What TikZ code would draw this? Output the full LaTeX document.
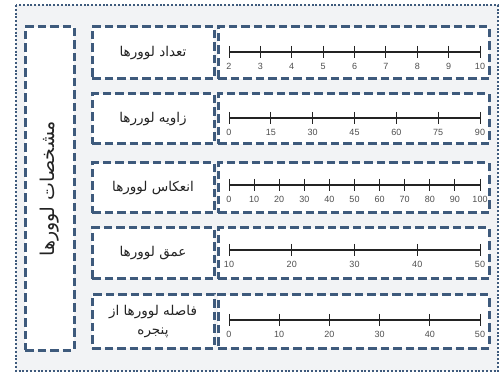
\documentclass[tikz,border=0pt]{standalone}
\usepackage{fontspec}
\setmainfont{Liberation Sans}
\newfontfamily\arabicfont[Script=Arabic]{DejaVu Sans}
\TeXXeTstate=1
\definecolor{bc}{RGB}{62,90,124}
\definecolor{bgc}{RGB}{242,243,245}
\definecolor{txt}{RGB}{35,35,35}
\tikzset{
  frame/.style={draw=bc, line width=2.6pt, dash pattern=on 2pt off 1.8pt},
  dbox/.style={draw=bc, line width=3pt, dash pattern=on 8.5pt off 4pt, fill=white},
  lab/.style={text=txt, font=\arabicfont\fontsize{13.5}{19}\selectfont, align=center},
  num/.style={text=txt!80, font=\fontsize{9}{10}\selectfont, inner sep=0pt},
  scaleline/.style={draw=txt, line width=1.2pt},
  tick/.style={draw=txt, line width=1pt}
}
\newcommand\myscale[3]{%
  \draw[scaleline] (229,#1) -- (480,#1);
  \foreach \l [count=\i from 0] in {#3} {
    \pgfmathsetmacro\xx{229+251*\i/#2}
    \draw[tick] (\xx,#1-6) -- (\xx,#1+6);
    \node[num] at (\xx,#1+14) {\l};
  }
}
\begin{document}
\begin{tikzpicture}[x=1pt,y=-1pt]
\useasboundingbox (0,0) rectangle (501,374);
\fill[white] (0,0) rectangle (501,374);
\filldraw[frame, fill=bgc] (16,5) rectangle (498,371);
\node[dbox, minimum width=49pt, minimum height=323pt, inner sep=0pt] (side) at (49.5,188.5) {};
\node[lab, rotate=90, font=\arabicfont\fontsize{19}{21}\selectfont] (sidet) at (side.center) {\beginR مشخصات لوورها\endR};
% rows
\foreach \t/\b/\nm in {27/79/r1, 94/144/r2, 163/213/r3, 228/279/r4, 295/348/r5} {
  \node[dbox, minimum width=122pt, minimum height={\b-\t}, inner sep=0pt] (\nm l) at (153,{(\t+\b)/2}) {};
  \node[dbox, minimum width=271pt, minimum height={\b-\t}, inner sep=0pt] (\nm s) at (353.5,{(\t+\b)/2}) {};
}
\node[lab] at (r1l.center) {\beginR تعداد لوورها\endR};
\node[lab] at (r2l.center) {\beginR زاویه لوررها\endR};
\node[lab] at (r3l.center) {\beginR انعکاس لوورها\endR};
\node[lab] at (r4l.center) {\beginR عمق لوورها\endR};
\node[lab] at (r5l.center) {\beginR فاصله لوورها از\endR\\\beginR پنجره\endR};
\myscale{52}{8}{2,3,4,5,6,7,8,9,10}
\myscale{118}{6}{0,15,30,45,60,75,90}
\myscale{185}{10}{0,10,20,30,40,50,60,70,80,90,100}
\myscale{250}{4}{10,20,30,40,50}
\myscale{320}{5}{0,10,20,30,40,50}
\end{tikzpicture}
\end{document}
